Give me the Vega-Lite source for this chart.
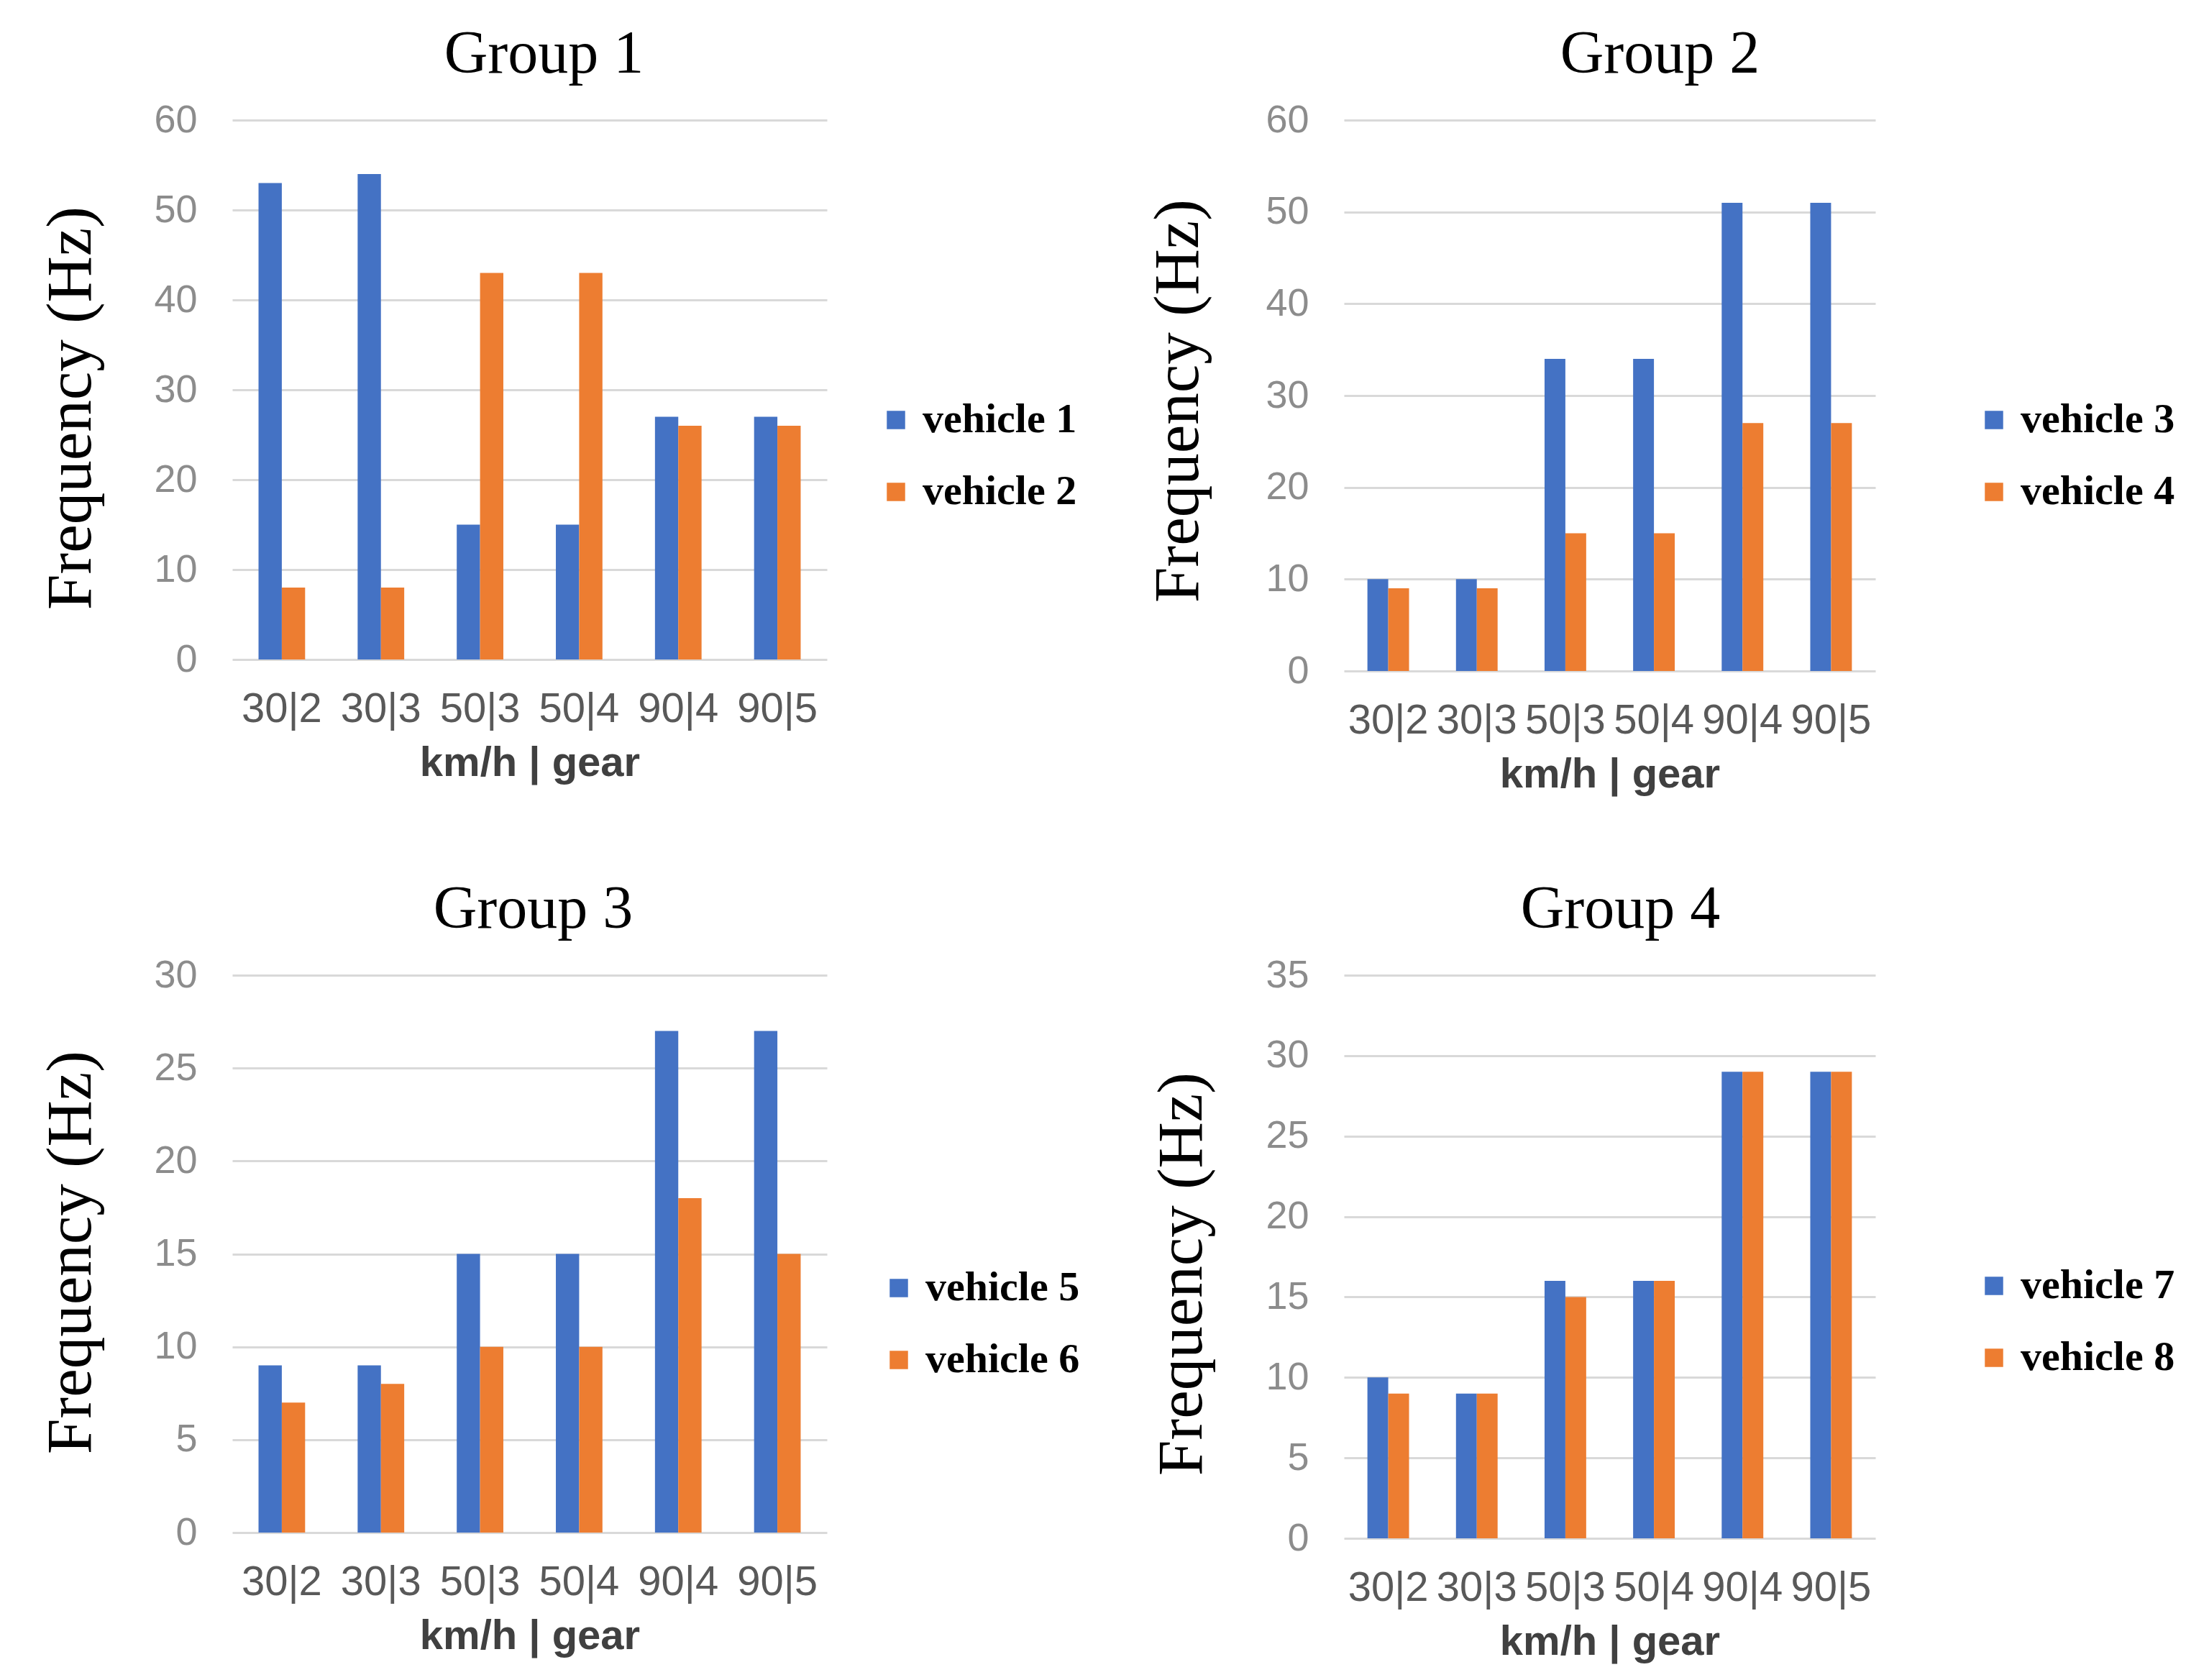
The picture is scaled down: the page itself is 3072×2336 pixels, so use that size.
{
  "$schema": "https://vega.github.io/schema/vega-lite/v6.json",
  "background": "#ffffff",
  "padding": {"top": 34, "left": 54, "right": 10, "bottom": 10},
  "data": {
    "values": [
      {"group": "Group 1", "gear": "30|2", "vehicle": "vehicle 1", "freq": 53},
      {"group": "Group 1", "gear": "30|3", "vehicle": "vehicle 1", "freq": 54},
      {"group": "Group 1", "gear": "50|3", "vehicle": "vehicle 1", "freq": 15},
      {"group": "Group 1", "gear": "50|4", "vehicle": "vehicle 1", "freq": 15},
      {"group": "Group 1", "gear": "90|4", "vehicle": "vehicle 1", "freq": 27},
      {"group": "Group 1", "gear": "90|5", "vehicle": "vehicle 1", "freq": 27},
      {"group": "Group 1", "gear": "30|2", "vehicle": "vehicle 2", "freq": 8},
      {"group": "Group 1", "gear": "30|3", "vehicle": "vehicle 2", "freq": 8},
      {"group": "Group 1", "gear": "50|3", "vehicle": "vehicle 2", "freq": 43},
      {"group": "Group 1", "gear": "50|4", "vehicle": "vehicle 2", "freq": 43},
      {"group": "Group 1", "gear": "90|4", "vehicle": "vehicle 2", "freq": 26},
      {"group": "Group 1", "gear": "90|5", "vehicle": "vehicle 2", "freq": 26},
      {"group": "Group 2", "gear": "30|2", "vehicle": "vehicle 3", "freq": 10},
      {"group": "Group 2", "gear": "30|3", "vehicle": "vehicle 3", "freq": 10},
      {"group": "Group 2", "gear": "50|3", "vehicle": "vehicle 3", "freq": 34},
      {"group": "Group 2", "gear": "50|4", "vehicle": "vehicle 3", "freq": 34},
      {"group": "Group 2", "gear": "90|4", "vehicle": "vehicle 3", "freq": 51},
      {"group": "Group 2", "gear": "90|5", "vehicle": "vehicle 3", "freq": 51},
      {"group": "Group 2", "gear": "30|2", "vehicle": "vehicle 4", "freq": 9},
      {"group": "Group 2", "gear": "30|3", "vehicle": "vehicle 4", "freq": 9},
      {"group": "Group 2", "gear": "50|3", "vehicle": "vehicle 4", "freq": 15},
      {"group": "Group 2", "gear": "50|4", "vehicle": "vehicle 4", "freq": 15},
      {"group": "Group 2", "gear": "90|4", "vehicle": "vehicle 4", "freq": 27},
      {"group": "Group 2", "gear": "90|5", "vehicle": "vehicle 4", "freq": 27},
      {"group": "Group 3", "gear": "30|2", "vehicle": "vehicle 5", "freq": 9},
      {"group": "Group 3", "gear": "30|3", "vehicle": "vehicle 5", "freq": 9},
      {"group": "Group 3", "gear": "50|3", "vehicle": "vehicle 5", "freq": 15},
      {"group": "Group 3", "gear": "50|4", "vehicle": "vehicle 5", "freq": 15},
      {"group": "Group 3", "gear": "90|4", "vehicle": "vehicle 5", "freq": 27},
      {"group": "Group 3", "gear": "90|5", "vehicle": "vehicle 5", "freq": 27},
      {"group": "Group 3", "gear": "30|2", "vehicle": "vehicle 6", "freq": 7},
      {"group": "Group 3", "gear": "30|3", "vehicle": "vehicle 6", "freq": 8},
      {"group": "Group 3", "gear": "50|3", "vehicle": "vehicle 6", "freq": 10},
      {"group": "Group 3", "gear": "50|4", "vehicle": "vehicle 6", "freq": 10},
      {"group": "Group 3", "gear": "90|4", "vehicle": "vehicle 6", "freq": 18},
      {"group": "Group 3", "gear": "90|5", "vehicle": "vehicle 6", "freq": 15},
      {"group": "Group 4", "gear": "30|2", "vehicle": "vehicle 7", "freq": 10},
      {"group": "Group 4", "gear": "30|3", "vehicle": "vehicle 7", "freq": 9},
      {"group": "Group 4", "gear": "50|3", "vehicle": "vehicle 7", "freq": 16},
      {"group": "Group 4", "gear": "50|4", "vehicle": "vehicle 7", "freq": 16},
      {"group": "Group 4", "gear": "90|4", "vehicle": "vehicle 7", "freq": 29},
      {"group": "Group 4", "gear": "90|5", "vehicle": "vehicle 7", "freq": 29},
      {"group": "Group 4", "gear": "30|2", "vehicle": "vehicle 8", "freq": 9},
      {"group": "Group 4", "gear": "30|3", "vehicle": "vehicle 8", "freq": 9},
      {"group": "Group 4", "gear": "50|3", "vehicle": "vehicle 8", "freq": 15},
      {"group": "Group 4", "gear": "50|4", "vehicle": "vehicle 8", "freq": 16},
      {"group": "Group 4", "gear": "90|4", "vehicle": "vehicle 8", "freq": 29},
      {"group": "Group 4", "gear": "90|5", "vehicle": "vehicle 8", "freq": 29}
    ]
  },
  "vconcat": [
    {
      "hconcat": [
        {
          "width": 827,
          "height": 750,
          "title": {"text": "Group 1", "dx": 20},
          "transform": [{"filter": "datum.group == 'Group 1'"}],
          "mark": {"type": "bar"},
          "encoding": {
            "x": {"field": "gear", "type": "nominal", "sort": null, "title": "km/h | gear",
                  "scale": {"paddingInner": 0.53, "paddingOuter": 0.265}},
            "xOffset": {"field": "vehicle", "sort": null, "scale": {"paddingInner": 0, "paddingOuter": 0}},
            "y": {"field": "freq", "type": "quantitative", "title": "Frequency (Hz)",
                  "scale": {"domain": [0, 60]}, "axis": {"values": [0, 10, 20, 30, 40, 50, 60], "titleY": 400}},
            "color": {"field": "vehicle", "type": "nominal",
                      "scale": {"range": ["#4472C4", "#ED7D31"]},
                      "legend": {"title": null, "orient": "none", "legendX": 894, "legendY": 388}}
          }
        },
        {
          "width": 739,
          "height": 766,
          "title": {"text": "Group 2", "dx": 70},
          "transform": [{"filter": "datum.group == 'Group 2'"}],
          "mark": {"type": "bar"},
          "encoding": {
            "x": {"field": "gear", "type": "nominal", "sort": null, "title": "km/h | gear",
                  "scale": {"paddingInner": 0.53, "paddingOuter": 0.265}},
            "xOffset": {"field": "vehicle", "sort": null, "scale": {"paddingInner": 0, "paddingOuter": 0}},
            "y": {"field": "freq", "type": "quantitative", "title": "Frequency (Hz)",
                  "scale": {"domain": [0, 60]}, "axis": {"values": [0, 10, 20, 30, 40, 50, 60], "titlePadding": 75, "titleY": 390}},
            "color": {"field": "vehicle", "type": "nominal",
                      "scale": {"range": ["#4472C4", "#ED7D31"]},
                      "legend": {"title": null, "orient": "none", "legendX": 875, "legendY": 388}}
          }
        }
      ],
      "spacing": 96,
      "resolve": {"scale": {"color": "independent", "y": "independent", "x": "independent", "xOffset": "independent"}, "legend": {"color": "independent"}}
    },
    {
      "hconcat": [
        {
          "width": 827,
          "height": 775,
          "title": {"text": "Group 3", "dx": 5},
          "transform": [{"filter": "datum.group == 'Group 3'"}],
          "mark": {"type": "bar"},
          "encoding": {
            "x": {"field": "gear", "type": "nominal", "sort": null, "title": "km/h | gear",
                  "scale": {"paddingInner": 0.53, "paddingOuter": 0.265}},
            "xOffset": {"field": "vehicle", "sort": null, "scale": {"paddingInner": 0, "paddingOuter": 0}},
            "y": {"field": "freq", "type": "quantitative", "title": "Frequency (Hz)",
                  "scale": {"domain": [0, 30]}, "axis": {"values": [0, 5, 10, 15, 20, 25, 30], "titleY": 385}},
            "color": {"field": "vehicle", "type": "nominal",
                      "scale": {"range": ["#4472C4", "#ED7D31"]},
                      "legend": {"title": null, "orient": "none", "legendX": 898, "legendY": 406}}
          }
        },
        {
          "width": 739,
          "height": 783,
          "title": {"text": "Group 4", "dx": 15},
          "transform": [{"filter": "datum.group == 'Group 4'"}],
          "mark": {"type": "bar"},
          "encoding": {
            "x": {"field": "gear", "type": "nominal", "sort": null, "title": "km/h | gear",
                  "scale": {"paddingInner": 0.53, "paddingOuter": 0.265}},
            "xOffset": {"field": "vehicle", "sort": null, "scale": {"paddingInner": 0, "paddingOuter": 0}},
            "y": {"field": "freq", "type": "quantitative", "title": "Frequency (Hz)",
                  "scale": {"domain": [0, 35]}, "axis": {"values": [0, 5, 10, 15, 20, 25, 30, 35], "titlePadding": 70, "titleY": 415}},
            "color": {"field": "vehicle", "type": "nominal",
                      "scale": {"range": ["#4472C4", "#ED7D31"]},
                      "legend": {"title": null, "orient": "none", "legendX": 875, "legendY": 403}}
          }
        }
      ],
      "spacing": 97,
      "resolve": {"scale": {"color": "independent", "y": "independent", "x": "independent", "xOffset": "independent"}, "legend": {"color": "independent"}}
    }
  ],
  "spacing": 117,
  "resolve": {"scale": {"color": "independent", "y": "independent", "x": "independent", "xOffset": "independent"}, "legend": {"color": "independent"}},
  "config": {
    "view": {"stroke": null},
    "title": {"font": "Liberation Serif", "fontSize": 84, "fontWeight": "normal", "color": "#000000", "frame": "group", "anchor": "middle", "offset": 21},
    "axis": {"domain": false, "ticks": false},
    "axisY": {
      "gridColor": "#D9D9D9", "gridWidth": 3,
      "labelFont": "Liberation Sans", "labelFontSize": 54, "labelColor": "#8C8C8C", "labelPadding": 49,
      "titleFont": "Liberation Serif", "titleFontSize": 89, "titleFontWeight": "normal", "titleColor": "#000000", "titlePadding": 69
    },
    "axisX": {
      "grid": false, "labelAngle": 0,
      "labelFont": "Liberation Sans", "labelFontSize": 58, "labelColor": "#595959", "labelPadding": 40,
      "titleFont": "Liberation Sans", "titleFontSize": 58, "titleFontWeight": "bold", "titleColor": "#404040", "titlePadding": 17
    },
    "legend": {
      "labelFont": "Liberation Serif", "labelFontSize": 58, "labelFontWeight": "bold", "labelColor": "#000000", "labelLimit": 500,
      "symbolType": "square", "symbolSize": 650, "symbolStrokeWidth": 0, "rowPadding": 42, "labelOffset": 8
    }
  }
}
